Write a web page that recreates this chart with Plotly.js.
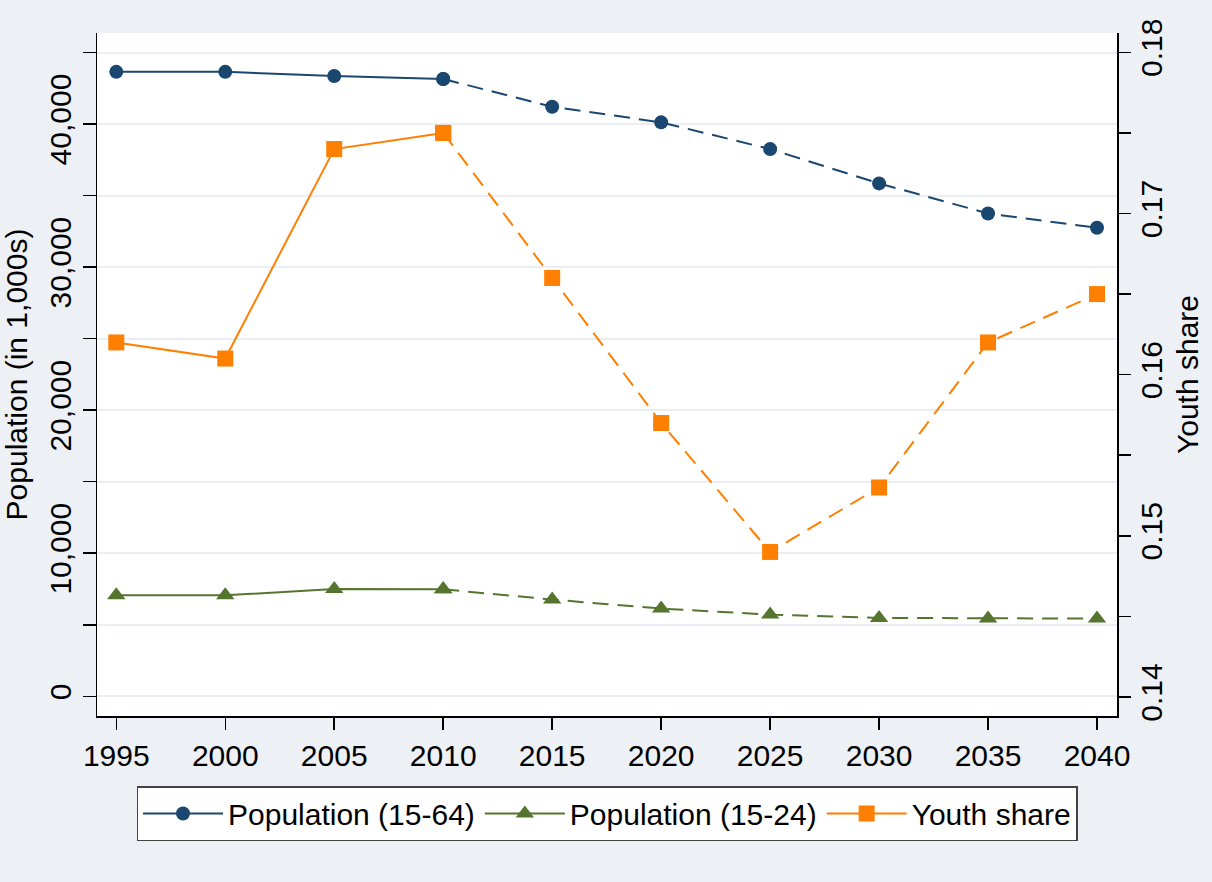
<!DOCTYPE html>
<html><head><meta charset="utf-8">
<script src="https://cdn.plot.ly/plotly-3.0.1.min.js"></script>
<style>html,body{margin:0;padding:0;background:#edf1f6}</style>
</head><body>
<div id="chart" style="width:1212px;height:882px"></div>
<script>
const years = [1995, 2000, 2005, 2010, 2015, 2020, 2025, 2030, 2035, 2040];
const pop1564 = [43650, 43650, 43360, 43150, 41210, 40120, 38250, 35850, 33750, 32750];
const pop1524 = [7060, 7060, 7500, 7480, 6760, 6130, 5710, 5480, 5430, 5430];
const youthShare = [0.162, 0.161, 0.174, 0.175, 0.166, 0.157, 0.149, 0.153, 0.162, 0.165];
const seriesNames = ['Population (15-64)', 'Population (15-24)', 'Youth share'];
const splitYear = 2010;

const navy = '#1a476f', green = '#55752f', orange = '#ff7f00';
const dashPat = '16px,9px';

function part(vals, hist) {
  const xs = [], ys = [];
  years.forEach((yr, i) => {
    if (hist ? yr <= splitYear : yr >= splitYear) { xs.push(yr); ys.push(vals[i]); }
  });
  return {x: xs, y: ys};
}

const specs = [
  {vals: pop1564, name: seriesNames[0], color: navy, symbol: 'circle', size: 14, axis: 'y'},
  {vals: pop1524, name: seriesNames[1], color: green, symbol: 'triangle-up', size: 16, axis: 'y'},
  {vals: youthShare, name: seriesNames[2], color: orange, symbol: 'square', size: 16, axis: 'y2'}
];

const traces = [];
specs.forEach((s, k) => {
  const h = part(s.vals, true), p = part(s.vals, false);
  traces.push({x: h.x, y: h.y, yaxis: s.axis, type: 'scatter', mode: 'lines+markers', name: s.name,
    legendgroup: 'g' + k, line: {color: s.color, width: 2},
    marker: {symbol: s.symbol, size: s.size, color: s.color}, hoverinfo: 'x+y'});
  traces.push({x: p.x, y: p.y, yaxis: s.axis, type: 'scatter', mode: 'lines+markers', name: s.name,
    legendgroup: 'g' + k, showlegend: false, line: {color: s.color, width: 2, dash: dashPat},
    marker: {symbol: s.symbol, size: s.size, color: s.color}, hoverinfo: 'x+y'});
});

const gridC = '#eaeef4';
const fs = 30;
const layout = {
  width: 1212, height: 882,
  paper_bgcolor: '#edf1f6', plot_bgcolor: '#ffffff',
  margin: {l: 97, r: 95, t: 33, b: 166},
  font: {family: '"Liberation Sans", Arial, sans-serif', size: fs, color: '#000'},
  showlegend: true,
  xaxis: {
    range: [1994.115, 2040.917], tickmode: 'array', tickvals: years,
    ticks: 'outside', ticklen: 12, tickwidth: 1.5, tickcolor: '#000',
    showline: true, linecolor: '#000', linewidth: 1.5, showgrid: false, zeroline: false,
    tickfont: {size: fs}
  },
  yaxis: {
    range: [-1378, 46364], tickmode: 'linear', tick0: 0, dtick: 10000, tickformat: ',d',
    ticks: 'outside', ticklen: 13, tickwidth: 1.5, tickcolor: '#000', tickangle: -90,
    showline: true, linecolor: '#000', linewidth: 1.5, zeroline: false,
    showgrid: true, gridcolor: gridC, gridwidth: 2,
    minor: {tick0: 0, dtick: 5000, ticks: 'outside', ticklen: 13, tickwidth: 1.5, tickcolor: '#000',
            showgrid: true, gridcolor: gridC, gridwidth: 2},
    tickfont: {size: fs},
    title: {text: 'Population (in 1,000s)', font: {size: fs}, standoff: 14}
  },
  yaxis2: {
    overlaying: 'y', side: 'right',
    range: [0.13882, 0.18120], tickmode: 'linear', tick0: 0.14, dtick: 0.01, tickformat: '.2f',
    ticks: 'outside', ticklen: 12, tickwidth: 1.5, tickcolor: '#000', tickangle: -90,
    ticklabelstandoff: -5,
    showline: true, linecolor: '#000', linewidth: 1.5, zeroline: false, showgrid: false,
    minor: {tick0: 0.14, dtick: 0.005, ticks: 'outside', ticklen: 12, tickwidth: 1.5, tickcolor: '#000', showgrid: false},
    tickfont: {size: fs},
    title: {text: 'Youth share', font: {size: fs}, standoff: 10}
  },
  legend: {
    orientation: 'h', x: 0.5, xanchor: 'center', y: -0.1025, yanchor: 'top',
    bgcolor: '#ffffff', bordercolor: '#444444', borderwidth: 1.5,
    font: {size: fs}, itemwidth: 80, traceorder: 'normal'
  }
};

Plotly.newPlot('chart', traces, layout, {displayModeBar: false, staticPlot: true});
</script>
</body></html>
